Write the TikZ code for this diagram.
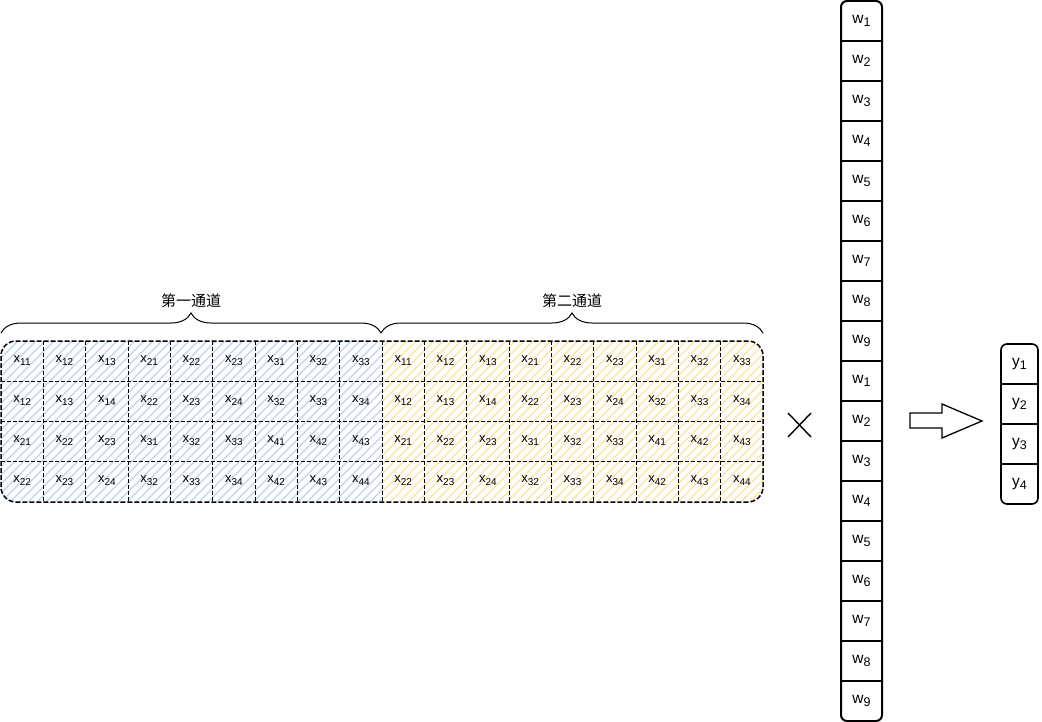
\documentclass[tikz,border=0pt]{standalone}
\usepackage{fontspec}
\setmainfont{Liberation Sans}
\newfontfamily\cjk{Noto Sans CJK SC}
\usetikzlibrary{decorations.pathreplacing}
\definecolor{hatchblue}{RGB}{190,210,242}
\definecolor{hatchyellow}{RGB}{255,226,155}
% lowered subscript, a little smaller than the letter
\newcommand{\xsub}[2]{\raisebox{-0.45ex}{\fontsize{#1}{#1}\selectfont #2}}

\begin{document}
\begin{tikzpicture}[x=1pt, y=-1pt,
  xlab/.style={font=\fontsize{13}{15}\selectfont, inner sep=0pt},
  wlab/.style={font=\fontsize{15.5}{18}\selectfont, inner sep=0pt},
  chlab/.style={font=\cjk\fontsize{15}{18}\selectfont, inner sep=0pt},
  gridline/.style={dash pattern=on 4pt off 2pt, line width=0.9pt}]
  \useasboundingbox (0,0) rectangle (1042,722);

  % Hatched fill of the two channels
  \begin{scope}
    \clip[rounded corners=15pt] (1,341) rectangle (763,502);
    \begin{scope}
      \clip (0,330) rectangle (381.5,510);
      \foreach \i in {0,9,...,560} \draw[hatchblue, line width=1.2pt] (\i-161,502) -- (\i,341);
    \end{scope}
    \begin{scope}
      \clip (381.5,330) rectangle (770,510);
      \foreach \i in {380,389,...,940} \draw[hatchyellow, line width=1.2pt] (\i-161,502) -- (\i,341);
    \end{scope}
  \end{scope}

  % Grid lines
  \foreach \k in {1,...,17} \draw[gridline] ({1+\k*42.333},341) -- ({1+\k*42.333},502);
  \foreach \y in {381,421,461} \draw[gridline] (1,\y) -- (763,\y);
  \draw[dash pattern=on 5pt off 2pt, line width=1.5pt, rounded corners=15pt] (1,341) rectangle (763,502);

  % Row 1: x11 ... x33
  \foreach \v [count=\k] in {11,12,13,21,22,23,31,32,33} {
    \node[xlab] (xa-1-\k) at ({1+(\k-0.5)*42.333},361) {x\xsub{10}{\v}};
    \node[xlab] (xb-1-\k) at ({382+(\k-0.5)*42.333},361) {x\xsub{10}{\v}};
  }
  % Row 2: x12 ... x34
  \foreach \v [count=\k] in {12,13,14,22,23,24,32,33,34} {
    \node[xlab] (xa-2-\k) at ({1+(\k-0.5)*42.333},401) {x\xsub{10}{\v}};
    \node[xlab] (xb-2-\k) at ({382+(\k-0.5)*42.333},401) {x\xsub{10}{\v}};
  }
  % Row 3: x21 ... x43
  \foreach \v [count=\k] in {21,22,23,31,32,33,41,42,43} {
    \node[xlab] (xa-3-\k) at ({1+(\k-0.5)*42.333},441) {x\xsub{10}{\v}};
    \node[xlab] (xb-3-\k) at ({382+(\k-0.5)*42.333},441) {x\xsub{10}{\v}};
  }
  % Row 4: x22 ... x44
  \foreach \v [count=\k] in {22,23,24,32,33,34,42,43,44} {
    \node[xlab] (xa-4-\k) at ({1+(\k-0.5)*42.333},481) {x\xsub{10}{\v}};
    \node[xlab] (xb-4-\k) at ({382+(\k-0.5)*42.333},481) {x\xsub{10}{\v}};
  }

  % Channel braces
  \draw[decorate, decoration={brace, amplitude=20pt}, line width=1pt] (1,333) -- (381,333);
  \draw[decorate, decoration={brace, amplitude=20pt}, line width=1pt] (381,333) -- (763,333);
  \node[chlab] (ch1) at (191,301) {第一通道};
  \node[chlab] (ch2) at (572,301) {第二通道};

  % Times sign
  \draw[line width=1.4pt] (788,413) -- (811,437);
  \draw[line width=1.4pt] (811,413) -- (788,437);

  % Weight column
  \draw[line width=2pt, rounded corners=6pt] (841,1) rectangle (882,721);
  \foreach \k in {1,...,17} \draw[line width=1.4pt] (841,{1+40*\k}) -- (882,{1+40*\k});
  \foreach \k in {1,...,9} {
    \node[wlab] (wa-\k) at (861.5,{21+40*(\k-1)}) {w\xsub{12.5}{\k}};
    \node[wlab] (wb-\k) at (861.5,{381+40*(\k-1)}) {w\xsub{12.5}{\k}};
  }

  % Block arrow
  \draw[line width=1.3pt, line join=miter] (910,413) -- (942,413) -- (942,404) -- (982,421)
    -- (942,438) -- (942,428) -- (910,428) -- cycle;

  % Output column
  \draw[line width=1.6pt, rounded corners=6pt] (1001,344) rectangle (1038,504);
  \foreach \k in {1,2,3} \draw[line width=1.2pt] (1001,{344+40*\k}) -- (1038,{344+40*\k});
  \foreach \k in {1,...,4} \node[wlab] (y-\k) at (1019.5,{364+40*(\k-1)}) {y\xsub{12.5}{\k}};
\end{tikzpicture}
\end{document}
